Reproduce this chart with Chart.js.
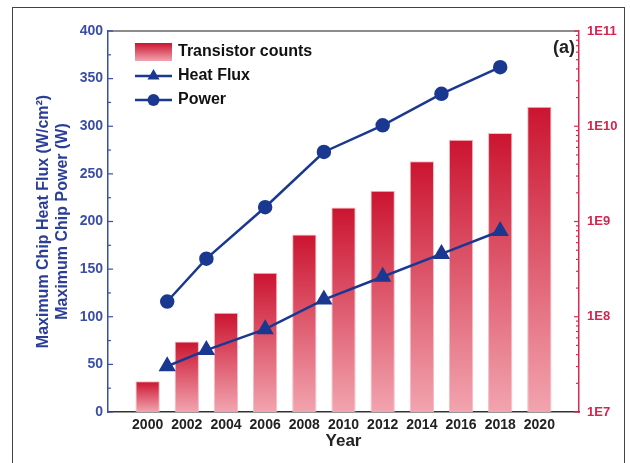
<!DOCTYPE html>
<html>
<head>
<meta charset="utf-8">
<script src="https://cdn.jsdelivr.net/npm/chart.js@4/dist/chart.umd.min.js"></script>
<style>
  html, body { margin: 0; padding: 0; background: #fff; }
  #wrap { position: relative; width: 630px; height: 463px; overflow: hidden; }
  #chart { position: absolute; left: 0; top: 0; }
  #frame { position: absolute; left: 12px; top: 7px; width: 613px; height: 480px;
           border: 1.5px solid #444; box-sizing: border-box; pointer-events: none; }
</style>
</head>
<body>
<div id="wrap">
  <canvas id="chart" width="630" height="463"></canvas>
  <div id="frame"></div>
</div>
<script>
// bars: transistor counts per chip (right log axis)
const barYears = [2000, 2002, 2004, 2006, 2008, 2010, 2012, 2014, 2016, 2018, 2020];
const transistorCounts = [2.1e7, 5.5e7, 1.1e8, 2.9e8, 7.3e8, 1.4e9, 2.1e9, 4.3e9, 7.2e9, 8.5e9, 1.6e10];

// lines: heat flux and power (left axis)
const lineYears = [2001, 2003, 2006, 2009, 2012, 2015, 2018];
const heatFlux = [48, 65, 87, 118, 142, 166, 190];
const power = [116, 161, 215, 273, 301, 334, 362];

const leftTicks = [0, 50, 100, 150, 200, 250, 300, 350, 400];
const rightTicks = [1e7, 1e8, 1e9, 1e10, 1e11];

const seriesNames = ["Transistor counts", "Heat Flux", "Power"];

const FONT = 'Arial, "Liberation Sans", sans-serif';
const NAVY = "#1b3891";
const AXIS_BLUE = "#3a4ea6";
const RED = "#dc2850";

function barGradient(ctx, top, bottom) {
  const g = ctx.createLinearGradient(0, top, 0, bottom);
  g.addColorStop(0, "#cb1430");
  g.addColorStop(1, "#f2a4af");
  return g;
}

// inward ticks, frame top line, legend and panel label
const decorPlugin = {
  id: "decor",
  afterDraw(chart) {
    const ctx = chart.ctx;
    const a = chart.chartArea;
    const yl = chart.scales.y, yr = chart.scales.y2;
    ctx.save();
    // top border
    ctx.strokeStyle = "#666";
    ctx.lineWidth = 1.5;
    ctx.beginPath();
    ctx.moveTo(a.left, a.top);
    ctx.lineTo(a.right, a.top);
    ctx.stroke();

    // left ticks (major every 50, minor every 25)
    ctx.strokeStyle = AXIS_BLUE;
    ctx.lineWidth = 1.2;
    for (let v = 0; v <= 400; v += 25) {
      const p = yl.getPixelForValue(v);
      const len = v % 50 === 0 ? 5 : 3;
      ctx.beginPath();
      ctx.moveTo(a.left, p);
      ctx.lineTo(a.left + len, p);
      ctx.stroke();
    }
    // right ticks (log)
    ctx.strokeStyle = RED;
    for (let e = 7; e <= 10; e++) {
      for (let m = 1; m <= 9; m++) {
        const p = yr.getPixelForValue(m * Math.pow(10, e));
        const len = m === 1 ? 5 : 3;
        ctx.beginPath();
        ctx.moveTo(a.right, p);
        ctx.lineTo(a.right - len, p);
        ctx.stroke();
      }
    }
    const pTop = yr.getPixelForValue(1e11);
    ctx.beginPath();
    ctx.moveTo(a.right, pTop);
    ctx.lineTo(a.right - 5, pTop);
    ctx.stroke();

    // legend
    const lx = a.left + 27, lw = 37, tx = a.left + 70;
    const rows = [a.top + 21, a.top + 45, a.top + 69];
    ctx.fillStyle = barGradient(ctx, rows[0] - 9, rows[0] + 9);
    ctx.fillRect(lx, rows[0] - 9, lw, 18);

    ctx.strokeStyle = NAVY;
    ctx.fillStyle = NAVY;
    ctx.lineWidth = 2.5;
    [1, 2].forEach((i) => {
      const y = rows[i];
      ctx.beginPath();
      ctx.moveTo(lx, y);
      ctx.lineTo(lx + lw, y);
      ctx.stroke();
      const cx = lx + lw / 2;
      ctx.beginPath();
      if (i === 1) {
        const r = 7;
        ctx.moveTo(cx, y - r);
        ctx.lineTo(cx + r * 0.866, y + r * 0.5);
        ctx.lineTo(cx - r * 0.866, y + r * 0.5);
        ctx.closePath();
      } else {
        ctx.arc(cx, y, 6, 0, Math.PI * 2);
      }
      ctx.fill();
    });

    ctx.fillStyle = "#111";
    ctx.font = "bold 16px " + FONT;
    ctx.textBaseline = "middle";
    ctx.textAlign = "left";
    seriesNames.forEach((n, i) => ctx.fillText(n, tx, rows[i]));

    // panel label
    ctx.font = "bold 18px " + FONT;
    ctx.textAlign = "right";
    ctx.fillStyle = "#222";
    ctx.fillText("(a)", a.right - 4, a.top + 17);
    ctx.restore();
  }
};

new Chart(document.getElementById("chart"), {
  type: "bar",
  plugins: [decorPlugin],
  data: {
    datasets: [
      {
        type: "line",
        label: seriesNames[1],
        data: lineYears.map((x, i) => ({ x: x, y: heatFlux[i] })),
        yAxisID: "y",
        borderColor: NAVY,
        backgroundColor: NAVY,
        borderWidth: 2.5,
        pointStyle: "triangle",
        pointRadius: 7.5,
        order: 1,
      },
      {
        type: "line",
        label: seriesNames[2],
        data: lineYears.map((x, i) => ({ x: x, y: power[i] })),
        yAxisID: "y",
        borderColor: NAVY,
        backgroundColor: NAVY,
        borderWidth: 2.5,
        pointStyle: "circle",
        pointRadius: 6,
        order: 2,
      },
      {
        type: "bar",
        label: seriesNames[0],
        data: barYears.map((x, i) => ({ x: x, y: transistorCounts[i] })),
        yAxisID: "y2",
        barPercentage: 0.62,
        categoryPercentage: 1,
        borderWidth: 1,
        borderColor: "rgba(244,180,188,0.9)",
        borderSkipped: "bottom",
        backgroundColor: (c) => {
          const chart = c.chart;
          if (!chart.chartArea || c.type !== "data" || c.raw == null) return "#dd4460";
          const top = chart.scales.y2.getPixelForValue(c.raw.y);
          return barGradient(chart.ctx, top, chart.chartArea.bottom);
        },
        order: 3,
      },
    ],
  },
  options: {
    responsive: false,
    animation: false,
    layout: { padding: { left: 0, right: 0, top: 31, bottom: 0 } },
    plugins: {
      legend: { display: false },
      tooltip: { enabled: false },
    },
    scales: {
      x: {
        type: "linear",
        min: 1999.07,
        max: 2020.93,
        afterBuildTicks: (s) => { s.ticks = barYears.map((v) => ({ value: v })); },
        afterFit: (s) => { s.height = 51; },
        grid: { display: false, drawTicks: false },
        border: { display: true, color: "#333", width: 1.5 },
        ticks: {
          padding: 5,
          color: "#222",
          font: { family: FONT, size: 14, weight: "bold" },
          callback: (v) => String(v),
        },
        title: {
          display: true,
          text: "Year",
          color: "#222",
          font: { family: FONT, size: 17, weight: "bold", lineHeight: 1.2 },
          padding: { top: 0, bottom: 11 },
        },
      },
      y: {
        position: "left",
        min: 0,
        max: 400,
        afterBuildTicks: (s) => { s.ticks = leftTicks.map((v) => ({ value: v })); },
        afterFit: (s) => { s.width = 108; },
        grid: { display: false, drawTicks: false },
        border: { display: true, color: AXIS_BLUE, width: 1.5 },
        ticks: {
          padding: 5,
          color: AXIS_BLUE,
          font: { family: FONT, size: 14, weight: "bold" },
        },
        title: {
          display: true,
          text: ["Maximum Chip Heat Flux (W/cm²)", "Maximum Chip Power (W)"],
          color: "#2b3f98",
          font: { family: FONT, size: 16, weight: "bold", lineHeight: 1.2 },
          padding: { top: 34, bottom: 0 },
        },
      },
      y2: {
        type: "logarithmic",
        position: "right",
        min: 1e7,
        max: 1e11,
        afterBuildTicks: (s) => { s.ticks = rightTicks.map((v) => ({ value: v })); },
        afterFit: (s) => { s.width = 51; },
        grid: { display: false, drawTicks: false },
        border: { display: true, color: RED, width: 1.5 },
        ticks: {
          padding: 8,
          color: "#d9234b",
          font: { family: FONT, size: 13, weight: "bold" },
          callback: (v) => "1E" + Math.round(Math.log10(v)),
        },
      },
    },
  },
});
</script>
</body>
</html>
